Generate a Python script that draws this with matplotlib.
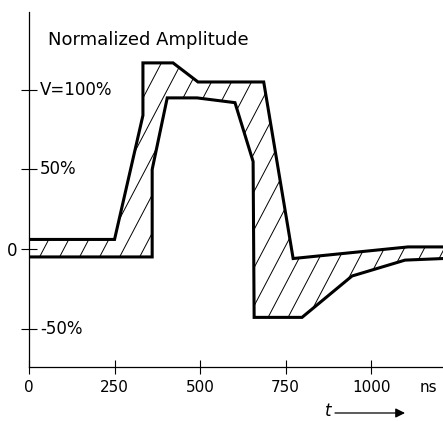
import numpy as np
import matplotlib
matplotlib.use('Agg')
import matplotlib.pyplot as plt
from matplotlib.patches import Polygon
from matplotlib.transforms import blended_transform_factory

# leading edge of the tolerance band (time in ns, amplitude in %)
t_upper = [0, 250, 333, 333, 421, 494, 686, 772, 1108, 1210]
v_upper = [6, 6, 84, 117, 117, 105, 105, -6, 1.3, 1.3]

# trailing edge of the tolerance band
t_lower = [0, 360, 360, 404, 491, 602, 655, 658, 798, 944, 1099, 1210]
v_lower = [-5, -5, 50, 95, 95, 92, 55, -43, -43, -17, -7, -6]

x_ticks = [0, 250, 500, 750, 1000]
x_labels = ['0', '250', '500', '750', '1000']
y_ticks = [-50, 0, 50, 100]
y_inside = {-50: '-50%', 50: '50%', 100: 'V=100%'}

plt.rcParams['font.family'] = 'DejaVu Sans'

fig = plt.figure(figsize=(4.43, 4.22), dpi=100)
ax = fig.add_axes([29 / 443, 55 / 422, 414 / 443, 355 / 422])
ax.set_xlim(0, 1210)
ax.set_ylim(-74.2, 149)

# hatched band between the two edges
band = Polygon(np.column_stack([t_upper + t_lower[::-1], v_upper + v_lower[::-1]]),
               closed=True, fill=False, edgecolor='none')
ax.add_patch(band)
slope = 0.41  # %/ns, gives the steep hatch of the original
for c in np.arange(-620, 1300, 58.5):
    hx = np.array([c, c + 600])
    hy = -80 + slope * (hx - c)
    ln, = ax.plot(hx, hy, color='black', lw=0.7)
    ln.set_clip_path(band)

ax.plot(t_upper, v_upper, color='black', lw=2.2, solid_joinstyle='miter')
ax.plot(t_lower, v_lower, color='black', lw=2.2, solid_joinstyle='miter')

# axes
for side in ['top', 'right']:
    ax.spines[side].set_visible(False)
for side in ['left', 'bottom']:
    ax.spines[side].set_linewidth(0.9)

ax.set_xticks(x_ticks)
ax.set_xticklabels(x_labels, fontsize=11)
ax.tick_params(axis='x', direction='inout', length=10, width=0.8, pad=4.4)
ax.set_yticks(y_ticks)
ax.set_yticklabels(['' if v != 0 else '0' for v in y_ticks], fontsize=12)
ax.tick_params(axis='y', direction='inout', length=11, width=0.8, pad=3)

ytr = ax.get_yaxis_transform()
for v, lab in y_inside.items():
    ax.text(0.027, v, lab, transform=ytr, fontsize=12, ha='left', va='center')

ax.text(0.046, 0.921, 'Normalized Amplitude', transform=ax.transAxes,
        fontsize=13, ha='left', va='center')

xtr = ax.get_xaxis_transform()
ax.text(1167, -0.037, 'ns', transform=xtr, fontsize=11, ha='center', va='top')

# time arrow
fig.text(328 / 443, 1 - 411 / 422, 't', fontsize=12, style='italic',
         ha='center', va='center')
ax.annotate('', xy=(405 / 443, 1 - 413 / 422), xytext=(335 / 443, 1 - 413 / 422),
            xycoords='figure fraction', textcoords='figure fraction',
            arrowprops=dict(arrowstyle='-|>', color='black', lw=0.9,
                            mutation_scale=14, shrinkA=0, shrinkB=0))

fig.savefig('out.png', dpi=100)
